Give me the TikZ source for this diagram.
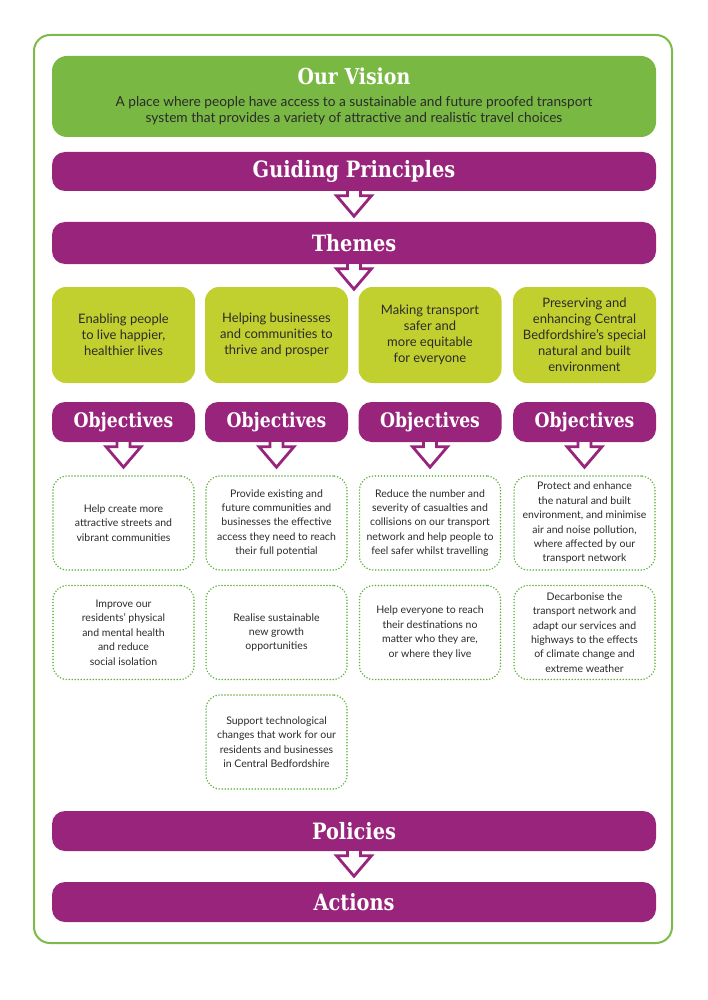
\documentclass[tikz,border=0pt]{standalone}
\usepackage{fontspec}
\setmainfont{Lato}
\newfontfamily\slab[FakeStretch=0.86]{DejaVu Serif}
\usetikzlibrary{calc}
\definecolor{purp}{HTML}{98247B}
\definecolor{visgreen}{HTML}{78B843}
\definecolor{themegreen}{HTML}{C2D02F}
\definecolor{framegreen}{HTML}{7CBA4A}
\definecolor{dotgreen}{HTML}{62B23C}
\definecolor{txt}{HTML}{2B2B2B}
\tikzset{
  bar/.style={fill=purp, draw=none, rounded corners=13pt, minimum width=604pt, inner sep=0pt,
    text=white, font=\slab\bfseries\fontsize{22.5}{26}\selectfont},
  objbar/.style={fill=purp, draw=none, rounded corners=13pt, minimum width=143pt, minimum height=40pt,
    inner sep=0pt, text=white, font=\slab\bfseries\fontsize{20}{23}\selectfont},
  themebox/.style={fill=themegreen, draw=none, rounded corners=14pt, minimum width=143pt,
    minimum height=96pt, inner sep=0pt, align=center, text=txt, font=\fontsize{13}{16}\selectfont},
  objbox/.style={draw=dotgreen, line width=1.7pt, dash pattern=on 0pt off 3pt, line cap=round,
    fill=white, rounded corners=14pt, minimum width=141pt, minimum height=94pt, inner sep=0pt,
    align=center, text=txt, font=\fontsize{10.5}{14.4}\selectfont},
  arrowline/.style={draw=purp, fill=white, line width=2.8pt, line join=miter}
}
\newcommand\harrow[1]{%
  \draw[arrowline] ($(#1.south)+(-6.5,0)$) -- ++(0,4.5) -- ++(-11,0)
    -- ($(#1.south)+(0,25)$) -- ($(#1.south)+(17.5,4.5)$) -- ++(-11,0) -- ++(0,-4.5);}
\begin{document}
\begin{tikzpicture}[x=1pt,y=-1pt]
\useasboundingbox (0,0) rectangle (707,1000);
\draw[framegreen, line width=2pt, rounded corners=16pt] (34,35) rectangle (672,943);

\node[fill=visgreen, rounded corners=15pt, minimum width=604pt, minimum height=81pt, inner sep=0pt,
  align=center, text=txt, font=\fontsize{13.7}{16}\selectfont] (vision) at (354,96.5)
  {{\slab\bfseries\fontsize{22}{25}\selectfont\textcolor{white}{Our Vision}}\\[6pt]
   A place where people have access to a sustainable and future proofed transport\\
   system that provides a variety of attractive and realistic travel choices};

\node[bar, minimum height=39pt] (gp) at (354,171.5) {Guiding Principles};
\node[bar, minimum height=42pt] (themes) at (354,243) {Themes};

\node[themebox] (t1) at (123.5,335) {Enabling people\\to live happier,\\healthier lives};
\node[themebox] (t2) at (276.5,335) {Helping businesses\\and communities to\\thrive and prosper};
\node[themebox] (t3) at (430,335) {Making transport\\safer and\\more equitable\\for everyone};
\node[themebox] (t4) at (584.5,335) {Preserving and\\enhancing Central\\Bedfordshire’s special\\natural and built\\environment};

\node[objbar] (o1) at (123.5,422) {Objectives};
\node[objbar] (o2) at (276.5,422) {Objectives};
\node[objbar] (o3) at (430,422) {Objectives};
\node[objbar] (o4) at (584.5,422) {Objectives};

\node[objbox] (a1) at (123.5,523) {Help create more\\attractive streets and\\vibrant communities};
\node[objbox] (a2) at (123.5,632.5) {Improve our\\residents’ physical\\and mental health\\and reduce\\social isolation};
\node[objbox] (b1) at (276.5,523) {Provide existing and\\future communities and\\businesses the effective\\access they need to reach\\their full potential};
\node[objbox] (b2) at (276.5,632.5) {Realise sustainable\\new growth\\opportunities};
\node[objbox] (b3) at (276.5,742) {Support technological\\changes that work for our\\residents and businesses\\in Central Bedfordshire};
\node[objbox] (c1) at (430,523) {Reduce the number and\\severity of casualties and\\collisions on our transport\\network and help people to\\feel safer whilst travelling};
\node[objbox] (c2) at (430,632.5) {Help everyone to reach\\their destinations no\\matter who they are,\\or where they live};
\node[objbox] (d1) at (584.5,523) {Protect and enhance\\the natural and built\\environment, and minimise\\air and noise pollution,\\where affected by our\\transport network};
\node[objbox] (d2) at (584.5,632.5) {Decarbonise the\\transport network and\\adapt our services and\\highways to the effects\\of climate change and\\extreme weather};

\node[bar, minimum height=40pt] (pol) at (354,831) {Policies};
\node[bar, minimum height=40pt] (act) at (354,902) {Actions};

\harrow{gp}
\harrow{themes}
\harrow{o1}
\harrow{o2}
\harrow{o3}
\harrow{o4}
\harrow{pol}
\end{tikzpicture}
\end{document}
